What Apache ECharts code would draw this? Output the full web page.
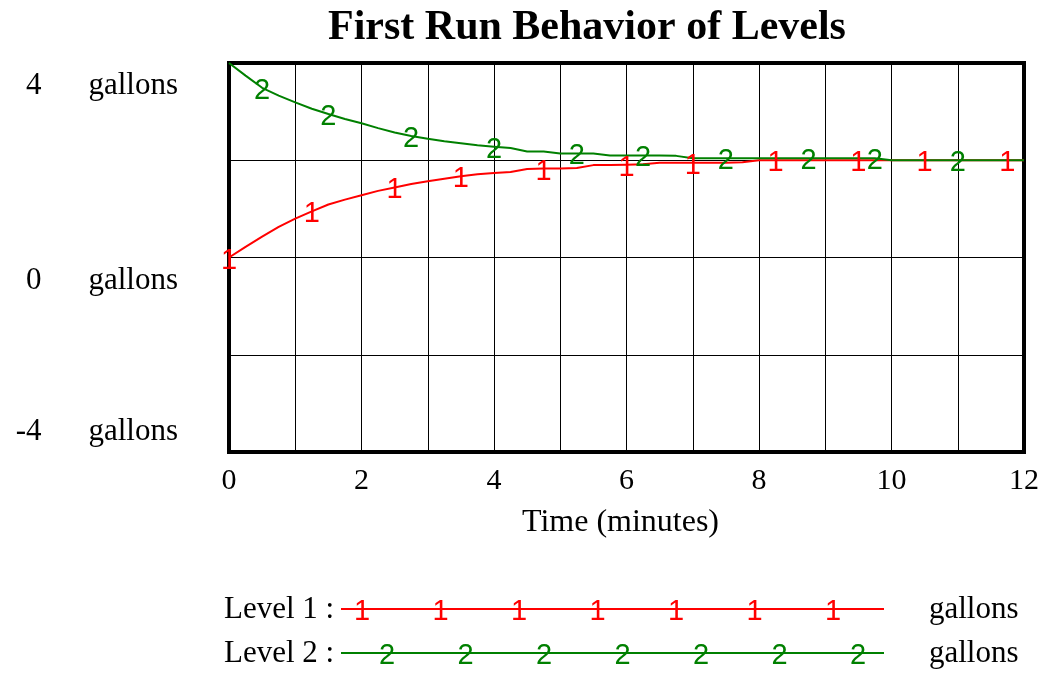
<!DOCTYPE html>
<html>
<head>
<meta charset="utf-8">
<script src="https://cdn.jsdelivr.net/npm/echarts@6/dist/echarts.min.js"></script>
<style>
html,body{margin:0;padding:0;background:#fff;}
#chart{width:1045px;height:675px;}
</style>
</head>
<body>
<div id="chart"></div>
<script>
// ---- data ----
const chartTitle = 'First Run Behavior of Levels';
const xAxisName = 'Time (minutes)';
const unitLabel = 'gallons';
const seriesNames = ['Level 1', 'Level 2'];
const seriesMarks = ['1', '2'];
const seriesColors = ['#ff0000', '#008000'];
const yTickLabels = [4, 0, -4];

const time = [0, 0.25, 0.5, 0.75, 1, 1.25, 1.5, 1.75, 2, 2.25, 2.5, 2.75, 3, 3.25, 3.5, 3.75,
  4, 4.25, 4.5, 4.75, 5, 5.25, 5.5, 5.75, 6, 6.25, 6.5, 6.75, 7, 7.25, 7.5, 7.75,
  8, 8.25, 8.5, 8.75, 9, 9.25, 9.5, 9.75, 10, 10.25, 10.5, 10.75, 11, 11.25, 11.5, 11.75, 12];

const level1 = [0.00, 0.22, 0.43, 0.63, 0.80, 0.95, 1.09, 1.19, 1.28, 1.37, 1.44, 1.51, 1.57, 1.62, 1.67, 1.71,
  1.74, 1.76, 1.82, 1.83, 1.83, 1.84, 1.90, 1.90, 1.91, 1.92, 1.95, 1.95, 1.95, 1.95, 1.95, 1.96,
  2.00, 2.00, 2.00, 2.00, 2.00, 2.00, 2.00, 2.00, 2.00, 2.00, 2.00, 2.00, 2.00, 2.00, 2.00, 2.00, 2.00];

const level2 = [4.00, 3.74, 3.49, 3.33, 3.19, 3.06, 2.95, 2.85, 2.76, 2.66, 2.57, 2.50, 2.44, 2.39, 2.35, 2.31,
  2.28, 2.25, 2.18, 2.18, 2.14, 2.14, 2.14, 2.10, 2.10, 2.10, 2.10, 2.09, 2.04, 2.04, 2.04, 2.04,
  2.04, 2.04, 2.04, 2.04, 2.04, 2.04, 2.04, 2.04, 2.00, 2.00, 2.00, 2.00, 2.00, 2.00, 2.00, 2.00, 2.00];

// indices (into time) where the number markers sit on each line
const markIdx1 = [0, 5, 10, 14, 19, 24, 28, 33, 38, 42, 47];
const markIdx2 = [2, 6, 11, 16, 21, 25, 30, 35, 39, 44];

// ---- chart ----
const SERIF = '"Liberation Serif", "Times New Roman", serif';
const SANS = '"Liberation Sans", Arial, sans-serif';

function lineSeries(name, values, idx, mark, color) {
  return {
    type: 'line',
    name: name,
    data: time.map((t, i) => [t, values[i]]),
    symbol: 'none',
    lineStyle: { color: color, width: 2 },
    itemStyle: { color: color },
    animation: false,
    silent: true,
    markPoint: {
      symbol: 'circle',
      symbolSize: 0,
      silent: true,
      animation: false,
      label: {
        show: true,
        position: 'inside',
        formatter: mark,
        color: color,
        fontFamily: SANS,
        fontSize: 29,
        offset: [0, 3]
      },
      data: idx.map(i => ({ coord: [time[i], values[i]] }))
    }
  };
}

const chart = echarts.init(document.getElementById('chart'), null, { renderer: 'canvas' });

// legend built as graphic elements
const legendGraphics = [];
seriesNames.forEach((nm, s) => {
  const y = 609 + s * 44;
  legendGraphics.push({
    type: 'text', x: 224, y: y + 1,
    style: { text: nm + ' :', fill: '#000', font: '31px ' + SERIF, align: 'left', verticalAlign: 'middle', textAlign: 'left', textVerticalAlign: 'middle' }
  });
  legendGraphics.push({
    type: 'line',
    shape: { x1: 341, y1: y, x2: 884, y2: y },
    style: { stroke: seriesColors[s], lineWidth: 2 }
  });
  const start = s === 0 ? 362 : 387;
  for (let k = 0; k < 7; k++) {
    legendGraphics.push({
      type: 'text', x: start + k * 78.5, y: y + 3,
      style: { text: seriesMarks[s], fill: seriesColors[s], font: '29px ' + SANS, align: 'center', verticalAlign: 'middle', textAlign: 'center', textVerticalAlign: 'middle' }
    });
  }
  legendGraphics.push({
    type: 'text', x: 929, y: y + 1,
    style: { text: unitLabel, fill: '#000', font: '31px ' + SERIF, align: 'left', verticalAlign: 'middle', textAlign: 'left', textVerticalAlign: 'middle' }
  });
});

const labelRich = {
  n: { fontSize: 31, fontFamily: SERIF, color: '#000', lineHeight: 31 },
  s: { width: 47, fontSize: 31, lineHeight: 31 },
  u: { fontSize: 31, fontFamily: SERIF, color: '#000', lineHeight: 31 },
  g: { fontSize: 8, lineHeight: 46 },
  g2: { fontSize: 8, lineHeight: 40 }
};

chart.setOption({
  backgroundColor: '#fff',
  animation: false,
  title: {
    text: chartTitle,
    left: 323,
    top: 2,
    textStyle: { fontSize: 42, fontWeight: 'bold', fontFamily: SERIF, color: '#000' }
  },
  grid: {
    left: 229, right: 21, top: 63, bottom: 223,
    show: true, borderColor: '#000', borderWidth: 4, backgroundColor: 'transparent'
  },
  xAxis: {
    type: 'value', min: 0, max: 12, interval: 1,
    name: xAxisName, nameLocation: 'middle', nameGap: 55,
    nameTextStyle: { fontSize: 32, fontFamily: SERIF, color: '#000', padding: [0, 12, 0, 0] },
    axisLine: { show: true, onZero: false, lineStyle: { color: '#000', width: 4 } },
    axisTick: { show: false },
    splitLine: { show: true, lineStyle: { color: '#000', width: 1 } },
    axisLabel: {
      margin: 14, fontSize: 30, fontFamily: SERIF, color: '#000',
      formatter: v => (v % 2 === 0 ? String(v) : '')
    }
  },
  yAxis: {
    type: 'value', min: -4, max: 4, interval: 2,
    axisLine: { show: true, onZero: false, lineStyle: { color: '#000', width: 4 } },
    axisTick: { show: false },
    splitLine: { show: true, lineStyle: { color: '#000', width: 1 } },
    axisLabel: {
      margin: 51,
      rich: labelRich,
      formatter: v => {
        if (yTickLabels.indexOf(v) < 0) return '';
        const body = '{n|' + v + '}{s| }{u|' + unitLabel + '}';
        if (v === yTickLabels[yTickLabels.length - 1]) return body + '\n{g2| }';
        return '{g| }\n' + body;
      }
    }
  },
  series: [
    lineSeries(seriesNames[0], level1, markIdx1, seriesMarks[0], seriesColors[0]),
    lineSeries(seriesNames[1], level2, markIdx2, seriesMarks[1], seriesColors[1])
  ],
  graphic: legendGraphics
});
</script>
</body>
</html>
